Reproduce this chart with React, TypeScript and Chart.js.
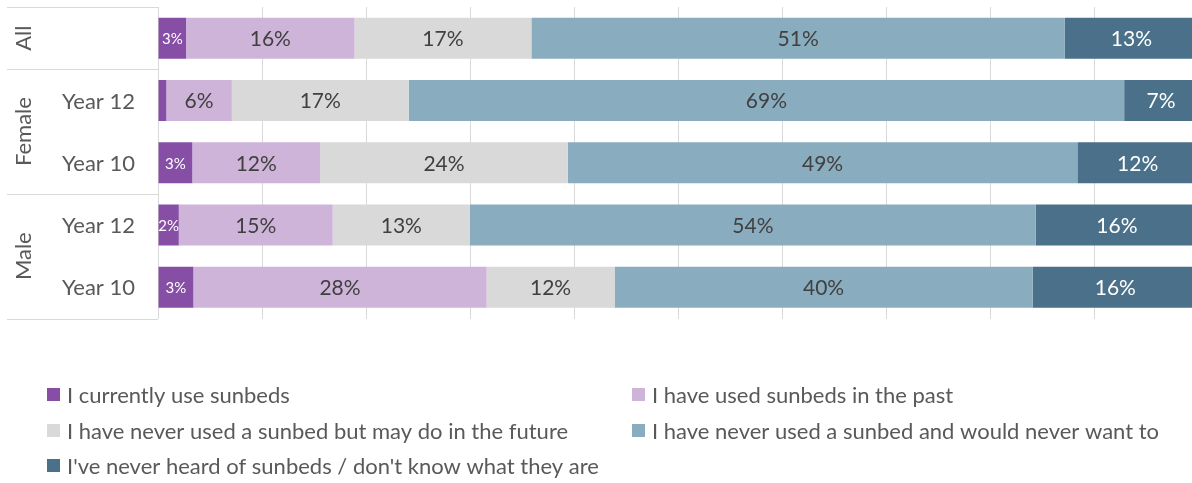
import React, { useEffect, useRef } from 'react';
import { Chart, registerables } from 'chart.js';

Chart.register(...registerables);

const categories = ['All', 'Female Year 12', 'Female Year 10', 'Male Year 12', 'Male Year 10'];
const subLabels = ['', 'Year 12', 'Year 10', 'Year 12', 'Year 10'];
const groupLabels = ['All', 'Female', 'Male'];
const groupSizes = [1, 2, 2];

const seriesNames = [
  'I currently use sunbeds',
  'I have used sunbeds in the past',
  'I have never used a sunbed but may do in the future',
  'I have never used a sunbed and would never want to',
  "I've never heard of sunbeds / don't know what they are",
];

const currentlyUse = [2.7, 0.8, 3.3, 2.0, 3.4];
const usedPast = [16.2, 6.3, 12.3, 14.8, 28.2];
const mayInFuture = [17.0, 17.0, 23.8, 13.2, 12.3];
const neverWant = [51.3, 68.8, 49.0, 54.4, 40.2];
const neverHeard = [12.8, 7.1, 11.6, 15.6, 15.9];

const seriesColors = ['#874EA6', '#CFB4DA', '#D9D9D9', '#8AACBF', '#4A7189'];
const labelColors = ['#FFFFFF', '#404040', '#404040', '#404040', '#FFFFFF'];
const labelSizes = [15, 21, 21, 21, 21];

const FONT = "Lato, 'Open Sans', sans-serif";
const TEXT = '#595959';
const LINE = '#D9D9D9';

const dataLabelPlugin = {
  id: 'dataLabels',
  afterDatasetsDraw(chart: any) {
    const ctx = chart.ctx;
    chart.data.datasets.forEach((ds: any, di: number) => {
      const meta = chart.getDatasetMeta(di);
      meta.data.forEach((el: any, i: number) => {
        const v = ds.data[i] as number;
        if (v < 1) return;
        const p = el.getCenterPoint();
        ctx.save();
        ctx.font = `${labelSizes[di]}px ${FONT}`;
        ctx.fillStyle = labelColors[di];
        ctx.textAlign = 'center';
        ctx.textBaseline = 'middle';
        ctx.fillText(`${Math.round(v)}%`, p.x, p.y + 1);
        ctx.restore();
      });
    });
  },
};

const categoryAxisPlugin = {
  id: 'categoryAxis',
  afterDraw(chart: any) {
    const ctx = chart.ctx;
    const yScale = chart.scales.y;
    const area = chart.chartArea;
    const left = 7;
    const n = categories.length;
    const boundary = (i: number) => {
      if (i <= 0) return area.top;
      if (i >= n) return area.bottom;
      return (yScale.getPixelForValue(i - 1) + yScale.getPixelForValue(i)) / 2;
    };
    ctx.save();
    ctx.strokeStyle = LINE;
    ctx.lineWidth = 1;
    let start = 0;
    const bounds = [0];
    groupSizes.forEach((s) => {
      start += s;
      bounds.push(start);
    });
    bounds.forEach((b) => {
      const y = Math.round(boundary(b)) + 0.5;
      ctx.beginPath();
      ctx.moveTo(left, y);
      ctx.lineTo(area.left, y);
      ctx.stroke();
    });
    ctx.fillStyle = TEXT;
    ctx.font = `22px ${FONT}`;
    ctx.textAlign = 'center';
    ctx.textBaseline = 'middle';
    subLabels.forEach((lab, i) => {
      if (!lab) return;
      ctx.fillText(lab, 98.5, yScale.getPixelForValue(i) + 1);
    });
    groupLabels.forEach((g, gi) => {
      const y0 = boundary(bounds[gi]);
      const y1 = boundary(bounds[gi + 1]);
      ctx.save();
      ctx.translate(24, (y0 + y1) / 2);
      ctx.rotate(-Math.PI / 2);
      ctx.fillText(g, 0, 0);
      ctx.restore();
    });
    ctx.restore();
  },
};

const legendPlugin = {
  id: 'customLegend',
  afterDraw(chart: any) {
    const ctx = chart.ctx;
    const colX = [47, 632];
    const rowY = [395, 431, 466];
    ctx.save();
    ctx.font = `22px ${FONT}`;
    ctx.textBaseline = 'middle';
    ctx.textAlign = 'left';
    chart.data.datasets.forEach((ds: any, i: number) => {
      const x = colX[i % 2];
      const y = rowY[Math.floor(i / 2)];
      ctx.fillStyle = ds.backgroundColor;
      ctx.fillRect(x, y - 7, 13, 13);
      ctx.fillStyle = TEXT;
      ctx.fillText(ds.label, x + 20, y + 1);
    });
    ctx.restore();
  },
};

export default function App() {
  const ref = useRef<HTMLCanvasElement | null>(null);

  useEffect(() => {
    if (!ref.current) return;
    const series = [currentlyUse, usedPast, mayInFuture, neverWant, neverHeard];
    const chart = new Chart(ref.current, {
      type: 'bar',
      data: {
        labels: categories,
        datasets: series.map((d, i) => ({
          label: seriesNames[i],
          data: d,
          backgroundColor: seriesColors[i],
          borderWidth: 0,
          barPercentage: 0.658,
          categoryPercentage: 1,
        })),
      },
      options: {
        indexAxis: 'y',
        animation: false,
        responsive: false,
        layout: { padding: { left: 158, right: 12, top: 7, bottom: 164.5 } },
        scales: {
          x: {
            stacked: true,
            min: 0,
            max: 100,
            ticks: { display: false, stepSize: 10 },
            grid: { color: LINE, lineWidth: 1, drawTicks: false, tickLength: 0 },
            border: { display: false },
          },
          y: {
            stacked: true,
            display: false,
          },
        },
        plugins: {
          legend: { display: false },
          tooltip: { enabled: false },
        },
      },
      plugins: [dataLabelPlugin, categoryAxisPlugin, legendPlugin],
    });
    return () => chart.destroy();
  }, []);

  return (
    <div style={{ position: 'absolute', left: 0, top: 0, width: 1192, height: 483, overflow: 'hidden', background: '#fff' }}>
      <canvas ref={ref} width={1210} height={483} style={{ display: 'block' }} />
    </div>
  );
}
